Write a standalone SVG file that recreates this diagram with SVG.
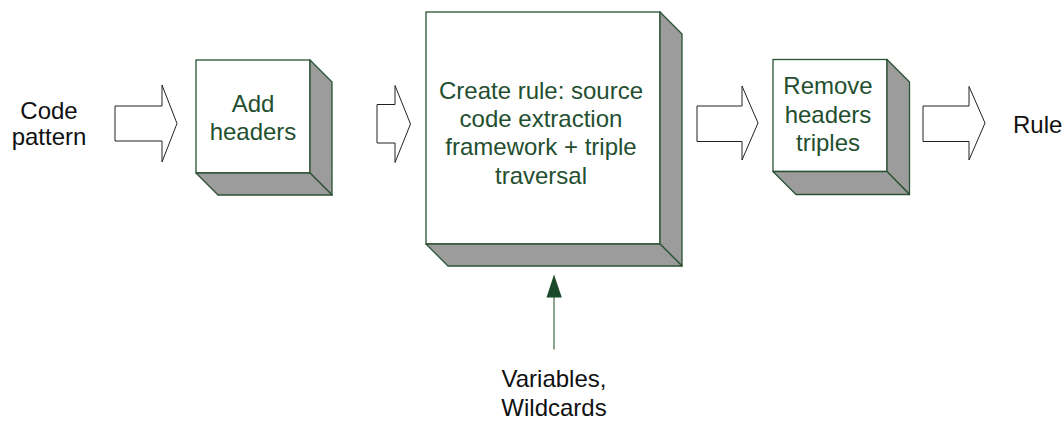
<svg xmlns="http://www.w3.org/2000/svg" width="1064" height="421" viewBox="0 0 1064 421">
<style>
.face{fill:#ffffff;stroke:#2b5234;stroke-width:1.3}
.shade{fill:#9c9c9c;stroke:#2b5234;stroke-width:1.3;stroke-linejoin:round}
.blk{fill:#ffffff;stroke:#222222;stroke-width:1}
.t{font-family:"Liberation Sans",Arial,sans-serif;font-size:24px;text-anchor:middle}
.g{fill:#234f30}
.k{fill:#111111}
</style>
<g id="connectors">
<polygon class="blk" points="115,106 162,106 162,85 177,123.5 162,162 162,141 115,141"/>
<polygon class="blk" points="377,104.5 395,104.5 395,85.5 410.5,124 395,162.5 395,143 377,143"/>
<polygon class="blk" points="697,106 742,106 742,86 758,123 742,160 742,141.5 697,141.5"/>
<polygon class="blk" points="923,106 969,106 969,86.5 985,123 969,160 969,141.5 923,141.5"/>
<line x1="554" y1="349.5" x2="554" y2="296" stroke="#3f6e4c" stroke-width="1.2"/>
<polygon points="554,274.5 561.8,297.5 546.5,297.5" fill="#1a4a2a"/>
</g>
<g id="input-code-pattern">
<text class="t k" x="49" y="118.5">Code</text>
<text class="t k" x="49" y="145">pattern</text>
</g>
<g id="add-headers">
<rect class="face" x="196" y="60" width="114" height="113"/>
<polygon class="shade" points="310,60 332,82 332,195 310,173"/>
<polygon class="shade" points="196,173 310,173 332,195 218,195"/>
<text class="t g" x="253" y="111.5">Add</text>
<text class="t g" x="253" y="140">headers</text>
</g>
<g id="create-rule">
<rect class="face" x="426" y="12" width="234" height="232"/>
<polygon class="shade" points="660,12 682,34 682,266 660,244"/>
<polygon class="shade" points="426,244 660,244 682,266 448,266"/>
<text class="t g" x="541" y="98.5">Create rule: source</text>
<text class="t g" x="541" y="127">code extraction</text>
<text class="t g" x="541" y="155">framework + triple</text>
<text class="t g" x="541" y="183.5">traversal</text>
</g>
<g id="remove-headers">
<rect class="face" x="773" y="59.5" width="114" height="112"/>
<polygon class="shade" points="887,59.5 909.5,82 909.5,194.5 887,171.5"/>
<polygon class="shade" points="773,171.5 887,171.5 909.5,194.5 796,194.5"/>
<text class="t g" x="828" y="93.5">Remove</text>
<text class="t g" x="828" y="122.5">headers</text>
<text class="t g" x="828" y="151">triples</text>
</g>
<g id="output-rule">
<text class="t k" x="1013" y="133" style="text-anchor:start">Rule</text>
</g>
<g id="input-variables">
<text class="t k" x="554" y="387">Variables,</text>
<text class="t k" x="554" y="415.5">Wildcards</text>
</g>
</svg>
